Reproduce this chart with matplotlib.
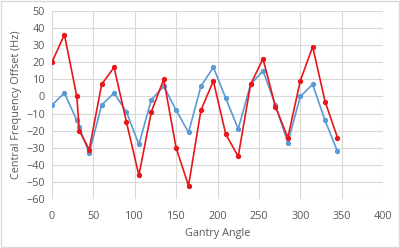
import numpy as np
import matplotlib.pyplot as plt
from matplotlib.patches import Rectangle

# gantry angle and frequency offsets (Hz)
angle = [0, 15, 30, 33, 45, 60, 75, 90, 105, 120, 135, 150, 165, 180, 195,
         210, 225, 240, 255, 270, 285, 300, 315, 330, 345]
red_offset = [20, 36, 0, -20, -31, 7, 17, -15, -46, -9, 10, -30, -52, -8, 9,
              -22, -35, 7, 22, -6, -24, 9, 29, -3, -24]
blue_offset = [-5, 2, -14, -18, -33, -5, 2, -9, -28, -2, 6, -8, -21, 6, 17,
               -1, -19, 7, 15, -5, -27, 0, 7, -14, -32]

plt.rcParams['font.family'] = ['Open Sans', 'DejaVu Sans']
tick_color = '#595959'

fig = plt.figure(figsize=(4.0, 2.48), dpi=100)
ax = fig.add_axes([0.13, 0.196, 0.8275, 0.761])

ax.plot(angle, blue_offset, '-o', color='#5B9BD5', lw=1.2, ms=2.8, zorder=3)
ax.plot(angle, red_offset, '-o', color='#E8161B', lw=1.2, ms=2.8, zorder=4)

ax.set_xlim(0, 400)
ax.set_ylim(-60, 50)
ax.set_xticks(np.arange(0, 401, 50))
ax.set_yticks(np.arange(-60, 51, 10))
ax.grid(True, color='#D9D9D9', lw=0.8)
ax.set_axisbelow(True)
for s in ax.spines.values():
    s.set_visible(False)
ax.tick_params(length=0, labelsize=7.8, colors=tick_color)
ax.tick_params(axis='x', pad=8)
ax.tick_params(axis='y', pad=5)

ax.set_xlabel('Gantry Angle', fontsize=7.8, color=tick_color, labelpad=5)
ax.set_ylabel('Central Frequency Offset (Hz)', fontsize=7.8, color=tick_color,
              labelpad=3)

# chart border
fig.patches.append(Rectangle((0.003, 0.004), 0.994, 0.992, transform=fig.transFigure,
                             fill=False, edgecolor='#D9D9D9', lw=1))

fig.savefig('out.png', dpi=100)
